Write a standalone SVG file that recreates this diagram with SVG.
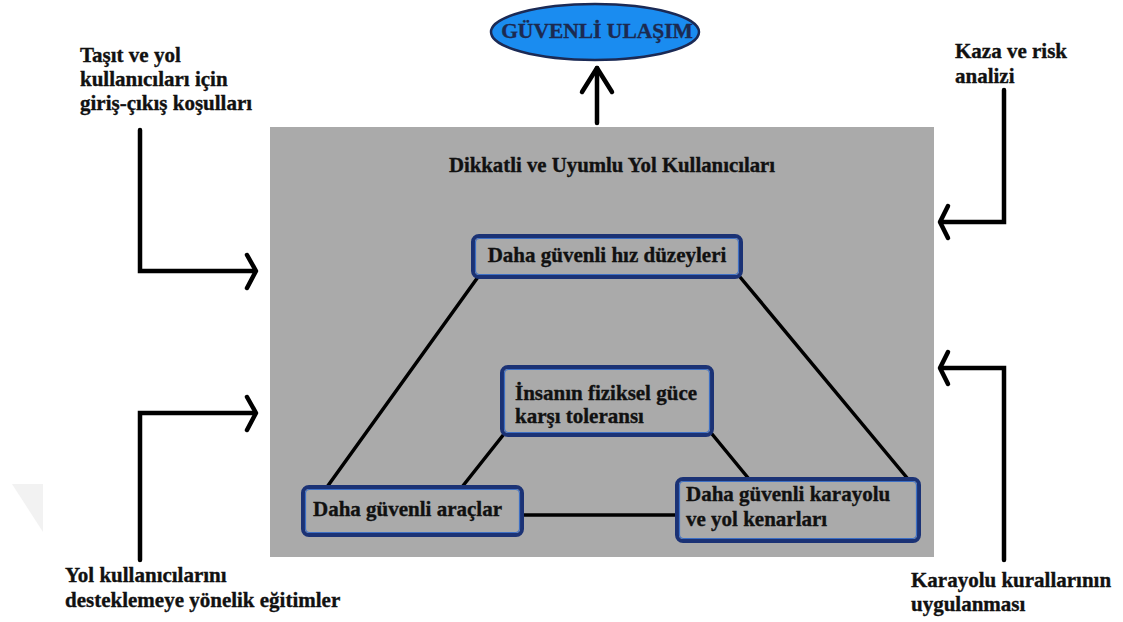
<svg xmlns="http://www.w3.org/2000/svg" width="1123" height="622" viewBox="0 0 1123 622">
<style>
text{font-family:"Liberation Serif","Times New Roman",serif;font-weight:700;fill:#111;stroke:#111;stroke-width:0.35;}
.lbl{font-size:21px;}
.box{fill:#aaaaaa;stroke:#1b3275;stroke-width:4;}
.boxin{fill:none;stroke:#3d6fc4;stroke-width:1.2;}
.ln{stroke:#000;stroke-width:3.5;fill:none;stroke-linecap:round;}
.arr{stroke:#000;stroke-width:4.5;fill:none;stroke-linecap:round;stroke-linejoin:miter;}
.chev{stroke:#000;stroke-width:4.5;fill:none;stroke-linecap:round;stroke-linejoin:round;}
</style>
<rect width="1123" height="622" fill="#fff"/>
<polygon points="12,484 43,484 43,532" fill="#f2f2f2"/>
<g id="context">
<rect x="270" y="127" width="664" height="430" fill="#aaaaaa"/>
<text x="612" y="172" font-size="20.8" text-anchor="middle">Dikkatli ve Uyumlu Yol Kullanıcıları</text>
</g>
<g id="goal">
<ellipse cx="595" cy="32" rx="104" ry="28" fill="#1a8cf0" stroke="#1b2a55" stroke-width="2.5"/>
<text x="597" y="38" font-size="21.5" text-anchor="middle" style="fill:#1c2a50;stroke:#1c2a50">GÜVENLİ ULAŞIM</text>
</g>
<g id="label-tl">
<text class="lbl" x="80" y="62">Taşıt ve yol</text>
<text class="lbl" x="80" y="86">kullanıcıları için</text>
<text class="lbl" x="80" y="110">giriş-çıkış koşulları</text>
</g>
<g id="label-tr">
<text class="lbl" x="955" y="58">Kaza ve risk</text>
<text class="lbl" x="955" y="83">analizi</text>
</g>
<g id="label-bl">
<text class="lbl" x="65" y="582">Yol kullanıcılarını</text>
<text class="lbl" x="65" y="607">desteklemeye yönelik eğitimler</text>
</g>
<g id="label-br">
<text class="lbl" x="911" y="587">Karayolu kurallarının</text>
<text class="lbl" x="911" y="611">uygulanması</text>
</g>
<g id="connectors">
<path class="arr" d="M597,123 V68" stroke-width="6"/>
<path class="chev" d="M582,92 L597,68 L612,92" stroke-width="6"/>
<path class="arr" d="M140,130 V271 H255"/>
<path class="chev" d="M247,255 L256,271 L247,288"/>
<path class="arr" d="M140,560 V413 H255"/>
<path class="chev" d="M247,397 L256,413 L247,430"/>
<path class="arr" d="M1004,90 V222 H942"/>
<path class="chev" d="M948,206 L940,222 L948,238"/>
<path class="arr" d="M1004,560 V368 H942"/>
<path class="chev" d="M948,352 L940,368 L948,384"/>
<path class="ln" d="M478,277 L327,487"/>
<path class="ln" d="M740,277 L908,479"/>
<path class="ln" d="M504,434 L462,487"/>
<path class="ln" d="M712,434 L749,479"/>
<path class="ln" d="M522,515 L677,515"/>
</g>
<g id="node-speed">
<rect class="box" x="473" y="236" width="268" height="41" rx="6"/>
<rect class="boxin" x="475.5" y="238.5" width="263" height="36" rx="4"/>
<text class="lbl" x="607" y="262" text-anchor="middle">Daha güvenli hız düzeyleri</text>
</g>
<g id="node-tolerance">
<rect class="box" x="502" y="367" width="210" height="68" rx="6"/>
<rect class="boxin" x="504.5" y="369.5" width="205" height="63" rx="4"/>
<text class="lbl" x="515" y="400">İnsanın fiziksel güce</text>
<text class="lbl" x="515" y="423">karşı toleransı</text>
</g>
<g id="node-vehicles">
<rect class="box" x="303" y="487" width="219" height="48" rx="6"/>
<rect class="boxin" x="305.5" y="489.5" width="214" height="43" rx="4"/>
<text class="lbl" x="313" y="516">Daha güvenli araçlar</text>
</g>
<g id="node-roads">
<rect class="box" x="677" y="479" width="242" height="62" rx="6"/>
<rect class="boxin" x="679.5" y="481.5" width="237" height="57" rx="4"/>
<text class="lbl" x="686" y="501">Daha güvenli karayolu</text>
<text class="lbl" x="686" y="526">ve yol kenarları</text>
</g>
</svg>
